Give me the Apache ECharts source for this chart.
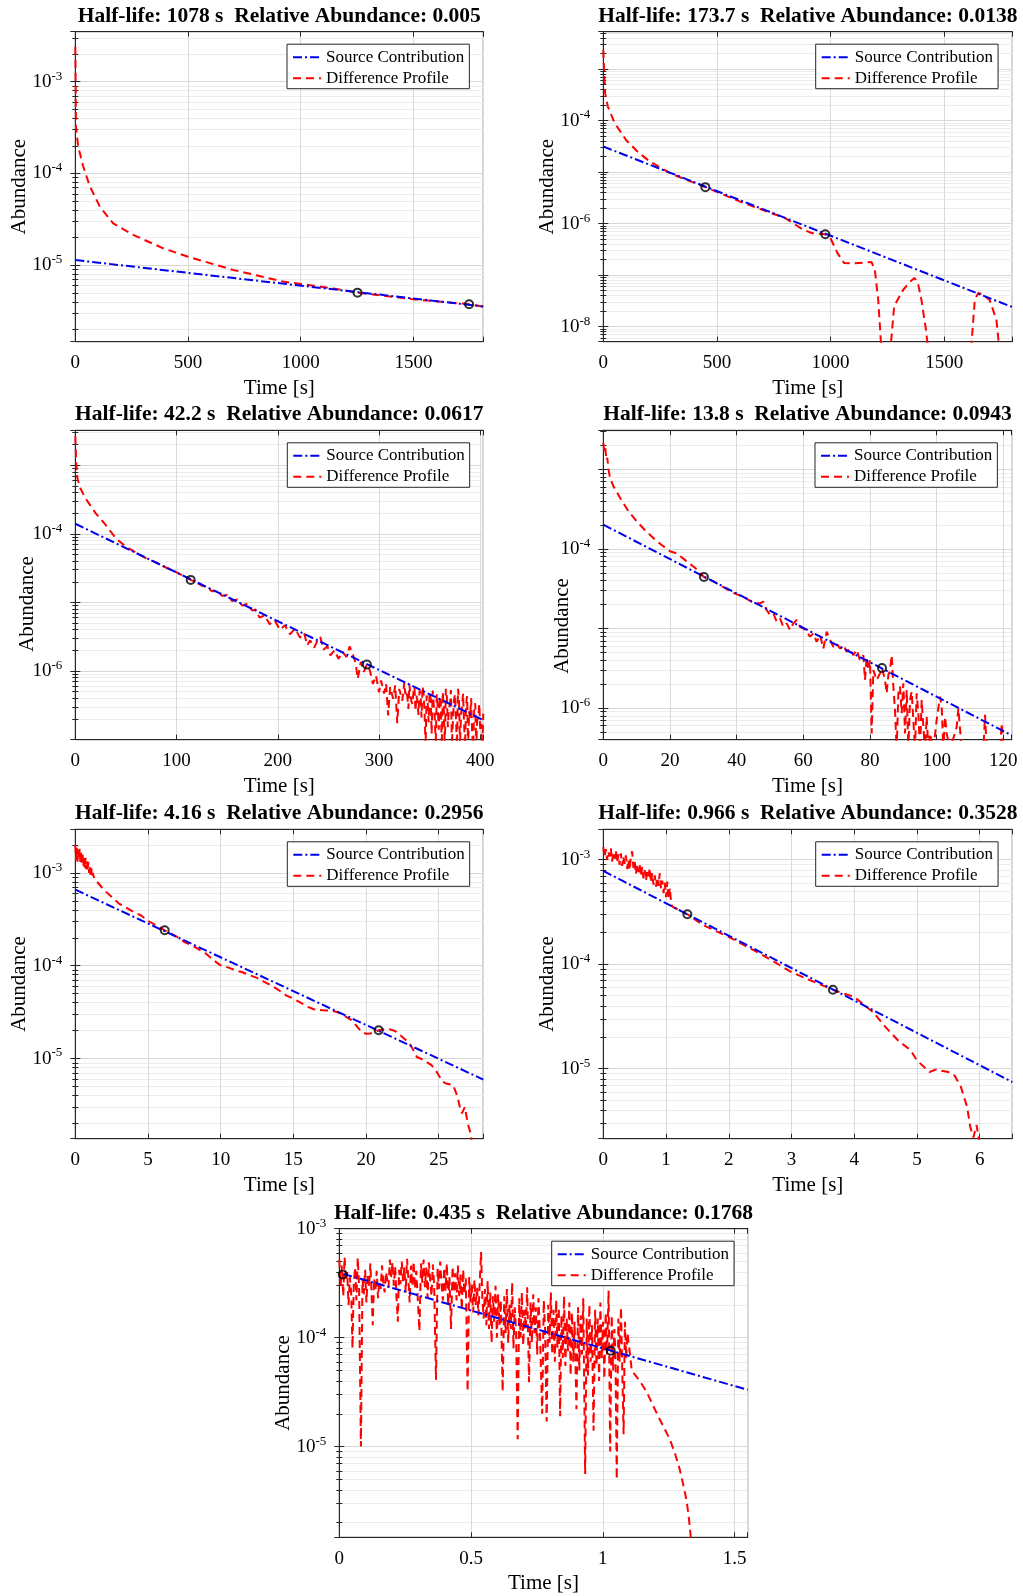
<!DOCTYPE html>
<html>
<head>
<meta charset="utf-8">
<script src="https://cdn.jsdelivr.net/npm/echarts@6/dist/echarts.min.js"></script>
<style>
html, body { margin: 0; padding: 0; background: #fff; }
#chart { width: 1023px; height: 1596px; }
</style>
</head>
<body>
<div id="chart"></div>
<script>
// ---------- panel titles ----------
const titles = [
  'Half-life: 1078 s  Relative Abundance: 0.005',
  'Half-life: 173.7 s  Relative Abundance: 0.0138',
  'Half-life: 42.2 s  Relative Abundance: 0.0617',
  'Half-life: 13.8 s  Relative Abundance: 0.0943',
  'Half-life: 4.16 s  Relative Abundance: 0.2956',
  'Half-life: 0.966 s  Relative Abundance: 0.3528',
  'Half-life: 0.435 s  Relative Abundance: 0.1768'
];

// ---------- axis ranges and tick labels ----------
const timeMax  = [1810, 1800, 403, 122.5, 28.07, 6.52, 1.55];
const timeStep = [500, 500, 100, 20, 5, 1, 0.5];
const abundMin = [1.47e-6, 5.1e-9, 1.0e-7, 4.0e-7, 1.37e-6, 2.14e-6, 1.47e-6];
const abundMax = [3.5e-3, 5.3e-3, 3.22e-3, 3.1e-3, 2.95e-3, 1.95e-3, 1.0e-3];
const decadeLabels = [[-3, -4, -5], [-4, -6, -8], [-4, -6], [-4, -6], [-3, -4, -5], [-3, -4, -5], [-3, -4, -5]];

// ---------- source contribution (fitted single-exponential) ----------
const source1 = [[0, 1.14e-5], [1810, 3.56e-6]];
const source2 = [[0, 3.13e-5], [1800, 2.4e-8]];
const source3 = [[0, 1.4e-4], [403, 1.93e-7]];
const source4 = [[0, 2.02e-4], [122.5, 4.53e-7]];
const source5 = [[0, 6.6e-4], [28.07, 5.94e-6]];
const source6 = [[0, 7.8e-4], [6.52, 7.45e-6]];
const source7 = [[0.015, 3.85e-4], [1.55, 3.32e-5]];

// ---------- fit-window points ----------
const peaks1 = [[1252, 5.03e-6], [1747, 3.76e-6]];
const peaks2 = [[449, 5.1e-6], [977, 6.2e-7]];
const peaks3 = [[114, 2.13e-5], [288, 1.25e-6]];
const peaks4 = [[30.2, 4.44e-5], [83.6, 3.19e-6]];
const peaks5 = [[6.15, 2.41e-4], [20.87, 2.02e-5]];
const peaks6 = [[1.34, 3.0e-4], [3.66, 5.7e-5]];
const peaks7 = [[0.013, 3.8e-4], [1.03, 7.6e-5]];

// ---------- difference profiles ----------
const diff1 = [[0,2.4e-3],[1,1.5e-3],[2,7.0e-4],[3,3.2e-4],[13,1.96e-4],[35,1.19e-4],[65,7.2e-5],[109,4.35e-5],
  [168,2.86e-5],[257,2.14e-5],[390,1.53e-5],[500,1.24e-5],[700,8.9e-6],[922,6.64e-6],[1144,5.6e-6],[1252,5.03e-6],
  [1498,4.26e-6],[1747,3.76e-6],[1810,3.55e-6]];

const diff2 = [[0,2.34e-3],[3,1.11e-3],[8,3.4e-4],[20,1.87e-4],[50,8.9e-5],[100,4.2e-5],[150,2.5e-5],[200,1.66e-5],
  [300,9.2e-6],[449,5.1e-6],[600,2.69e-6],[700,1.85e-6],[800,1.28e-6],[880,7.6e-7],[920,6.5e-7],[977,6.2e-7],
  [1000,5.2e-7],[1030,2.7e-7],[1060,1.71e-7],[1100,1.68e-7],[1150,1.76e-7],[1180,1.8e-7],[1195,1.27e-7],
  [1210,3.3e-8],[1225,3e-9],[1262,3e-9],[1280,2.5e-8],[1320,5.2e-8],[1350,7.5e-8],[1370,8.8e-8],[1385,6.9e-8],
  [1400,3.3e-8],[1420,8.7e-9],[1432,3e-9],[1617,3e-9],[1635,3.3e-8],[1650,4.5e-8],[1670,4.2e-8],[1700,3.3e-8],
  [1730,1.37e-8],[1745,3e-9],[1800,3e-9]];

const diff3 = [[0,2.64e-3],[1,1.02e-3],[2,6.5e-4],[5,4.6e-4],[10,3.3e-4],[20,2.0e-4],[30,1.35e-4],[40,8.6e-5],
  [50,6.5e-5],[60,5.3e-5],[70,4.4e-5],[80,3.8e-5],[90,3.2e-5],[100,2.75e-5],[110,2.3e-5],[114,2.13e-5],
  [120,1.93e-5],[125,1.75e-5],[130,1.68e-5],[135,1.45e-5],[140,1.47e-5],[145,1.25e-5],[150,1.28e-5],
  [155,1.05e-5],[160,1.1e-5],[165,9.0e-6],[170,9.6e-6],[175,7.6e-6],[178,7.9e-6],[182,6.0e-6],[187,6.5e-6],
  [192,4.8e-6],[197,5.5e-6],[202,4.0e-6],[207,4.65e-6],[212,3.43e-6],[217,4.15e-6],[222,3.07e-6],[226,3.6e-6],
  [229,2.37e-6],[232,2.8e-6],[236,2.19e-6],[240,2.96e-6],[242,3.14e-6],[245,2.05e-6],[249,2.29e-6],[252,1.69e-6],
  [256,2.0e-6],[260,1.51e-6],[264,1.9e-6],[268,1.6e-6],[271,2.29e-6],[274,1.79e-6],[277,1.28e-6],[279,7.7e-7],
  [282,1.36e-6],[285,9.7e-7],[288,1.25e-6],[291,1.02e-6],[294,6.5e-7],[297,8.6e-7],[300,4.9e-7],[302,7.3e-7],
  [305,4.7e-7],[307,6.5e-7],[309,2.25e-7],[311,5.85e-7],[314,3.95e-7],[316,6.2e-7],[318,1.74e-7],[320,5.5e-7],
  [323,3.7e-7],[325,6.9e-7],[326,4.6e-7],[327,5.2e-7],[328,4.2e-7],[329,2.8e-7],[330,6.4e-7],[331,4.6e-7],
  [332,3.6e-7],[333,3.3e-7],[334,5.0e-7],[335,5.85e-7],[336,2.6e-7],[337,4.4e-7],[338,3.5e-7],[339,2.3e-7],
  [340,5.2e-7],[341,4.8e-7],[342,2.1e-7],[343,6.0e-7],[344,4.7e-7],[345,2.5e-7],[346,8e-8],[347,4.4e-7],
  [348,3.7e-7],[349,1.8e-7],[350,4.9e-7],[351,4.0e-7],[352,1.22e-7],[353,5.2e-7],[354,3.3e-7],[355,2.2e-7],
  [356,8e-8],[357,4.6e-7],[358,3.0e-7],[359,1.4e-7],[360,4.2e-7],[361,3.6e-7],[362,8e-8],[363,5.0e-7],
  [364,2.67e-7],[365,8e-8],[366,5.5e-7],[367,4.2e-7],[368,1.52e-7],[369,2.8e-7],[370,3.3e-7],[371,5.3e-7],
  [372,8e-8],[373,1.9e-7],[374,3.7e-7],[375,4.6e-7],[376,2.1e-7],[377,8e-8],[378,5.5e-7],[379,3.9e-7],
  [380,8e-8],[381,2.4e-7],[382,3.0e-7],[383,4.7e-7],[384,1.7e-7],[385,8e-8],[386,3.3e-7],[387,4.3e-7],
  [388,8e-8],[389,2.6e-7],[390,2.1e-7],[391,4.0e-7],[392,1.22e-7],[393,8e-8],[394,2.8e-7],[395,3.4e-7],
  [396,8e-8],[397,1.9e-7],[398,2.1e-7],[399,3.3e-7],[400,1.36e-7],[401,1.7e-7],[402,8e-8],[403,2.4e-7]];

const diff4 = [[0,2.15e-3],[0.3,1.7e-3],[0.6,1.9e-3],[0.9,1.3e-3],[1.2,1.4e-3],[1.5,1.05e-3],[2,7.8e-4],[3,6.2e-4],
  [5,4.4e-4],[7.5,3.0e-4],[10,2.23e-4],[12.5,1.72e-4],[15,1.37e-4],[17.5,1.12e-4],[20,9.35e-5],[22,8.8e-5],
  [25,7.0e-5],[27.5,5.8e-5],[30.2,4.44e-5],[33,3.9e-5],[36,3.3e-5],[39,2.8e-5],[42,2.5e-5],[45,2.1e-5],
  [47,2.07e-5],[48,2.18e-5],[49,1.71e-5],[50,1.48e-5],[51,1.55e-5],[52,1.22e-5],[53,1.34e-5],[54,1.05e-5],
  [55,1.16e-5],[56,9.6e-6],[57,1.16e-5],[58,1.28e-5],[59,1.05e-5],[60,1.0e-5],[61,9.1e-6],[62,7.9e-6],
  [63,8.7e-6],[64,6.8e-6],[65,8.3e-6],[66,5.6e-6],[67,9.1e-6],[68,7.2e-6],[69,5.9e-6],[70,6.5e-6],[71,5.6e-6],
  [72,6.2e-6],[73,5.1e-6],[74,5.6e-6],[75,4.6e-6],[76,5.4e-6],[77,4.0e-6],[78,4.6e-6],[78.5,2.25e-6],[79,4.4e-6],
  [79.5,3.0e-6],[80,4.0e-6],[80.5,4.8e-7],[81,3.0e-6],[82,2.25e-6],[83,2.73e-6],[83.6,3.2e-6],[84.5,2.25e-6],
  [85,1.53e-6],[85.5,2.6e-6],[86,3.0e-6],[86.5,4.6e-6],[87,1.86e-6],[87.5,9.4e-7],[88,3e-7],[88.5,1.53e-6],
  [89,1.86e-6],[89.5,8.6e-7],[90,2.05e-6],[90.5,4.8e-7],[91,1.69e-6],[91.5,3e-7],[92,1.26e-6],[92.5,1.61e-6],
  [93,7.1e-7],[93.5,3e-7],[94,1.53e-6],[94.5,8.6e-7],[95,3e-7],[95.5,1.26e-6],[96,5.8e-7],[96.5,3e-7],
  [97,7.8e-7],[97.5,3e-7],[98,4.8e-7],[99,3e-7],[100,7.1e-7],[101,1.39e-6],[101.5,1.04e-6],[102,3e-7],
  [102.5,7.8e-7],[103,4.8e-7],[104,3e-7],[106,5.8e-7],[106.5,9.9e-7],[107.5,3e-7],[114,3e-7],[114.5,8.2e-7],
  [115,3e-7],[119,3e-7],[119.5,6.4e-7],[120,3e-7],[122.5,3e-7]];

const diff5 = [[0,2.0e-3],[0.05,1.38e-3],[0.1,1.86e-3],[0.15,1.32e-3],[0.2,1.78e-3],[0.25,1.41e-3],[0.3,1.82e-3],
  [0.35,1.26e-3],[0.4,1.66e-3],[0.45,1.29e-3],[0.5,1.58e-3],[0.55,1.17e-3],[0.6,1.51e-3],[0.65,1.12e-3],
  [0.7,1.45e-3],[0.75,1.1e-3],[0.8,1.35e-3],[0.85,1.05e-3],[0.9,1.32e-3],[0.95,1.0e-3],[1.0,1.2e-3],
  [1.05,9.5e-4],[1.1,1.12e-3],[1.15,8.9e-4],[1.2,1.0e-3],[1.3,8.7e-4],[1.5,8.0e-4],[2,6.5e-4],[3,4.68e-4],
  [4,3.8e-4],[4.5,3.5e-4],[5,3.05e-4],[5.5,2.75e-4],[6.15,2.41e-4],[7,2.05e-4],[7.5,1.8e-4],[8,1.66e-4],
  [8.5,1.5e-4],[9,1.35e-4],[9.5,1.15e-4],[10,1.01e-4],[10.5,9.6e-5],[11,8.95e-5],[11.5,8.5e-5],[12,7.9e-5],
  [12.5,7.4e-5],[13,6.7e-5],[13.5,6.1e-5],[14,5.45e-5],[14.5,4.8e-5],[15,4.43e-5],[15.5,4.0e-5],[16,3.6e-5],
  [16.5,3.35e-5],[17,3.32e-5],[17.5,3.3e-5],[18,3.18e-5],[18.5,2.9e-5],[19,2.59e-5],[19.4,2.2e-5],
  [19.7,1.94e-5],[20,1.85e-5],[20.3,1.86e-5],[20.9,2.02e-5],[21.5,2.1e-5],[22,1.98e-5],[22.5,1.71e-5],
  [23,1.45e-5],[23.3,1.2e-5],[23.5,1.04e-5],[24,9.6e-6],[24.5,8.5e-6],[24.8,7.5e-6],[25,6.6e-6],[25.3,5.6e-6],
  [25.5,5.4e-6],[26,5.16e-6],[26.3,3.87e-6],[26.5,2.8e-6],[26.6,2.57e-6],[26.8,3.0e-6],[27,2.0e-6],
  [27.2,1.56e-6],[27.3,1.2e-6]];

const diff6 = [[0,1.318e-3],[0.02,1.047e-3],[0.04,1.259e-3],[0.06,1.0e-3],[0.08,1.202e-3],[0.1,1.072e-3],
  [0.12,1.288e-3],[0.14,9.55e-4],[0.16,1.175e-3],[0.18,1.023e-3],[0.2,1.23e-3],[0.22,9.33e-4],[0.24,1.122e-3],
  [0.26,8.91e-4],[0.28,1.148e-3],[0.3,8.71e-4],[0.32,1.072e-3],[0.34,9.12e-4],[0.36,1.096e-3],[0.38,8.13e-4],
  [0.4,1.0e-3],[0.42,7.94e-4],[0.44,1.072e-3],[0.46,1.202e-3],[0.48,8.32e-4],[0.5,9.55e-4],[0.52,7.24e-4],
  [0.54,9.12e-4],[0.56,7.59e-4],[0.58,8.91e-4],[0.6,6.92e-4],[0.62,8.51e-4],[0.64,6.61e-4],[0.66,7.94e-4],
  [0.68,6.31e-4],[0.7,7.76e-4],[0.72,6.92e-4],[0.74,8.32e-4],[0.76,6.03e-4],[0.78,7.41e-4],[0.8,5.75e-4],
  [0.82,7.08e-4],[0.84,5.5e-4],[0.86,6.76e-4],[0.88,5.62e-4],[0.9,7.41e-4],[0.92,5.25e-4],[0.94,6.31e-4],
  [0.96,4.79e-4],[0.98,6.03e-4],[1.0,4.37e-4],[1.02,6.17e-4],[1.04,4.17e-4],[1.06,5.37e-4],[1.08,3.98e-4],
  [1.1,3.55e-4],[1.34,3.0e-4],[1.6,2.35e-4],[2,1.82e-4],[2.5,1.26e-4],[3,8.4e-5],[3.3,7.0e-5],[3.66,5.7e-5],
  [4,4.85e-5],[4.3,3.48e-5],[4.5,2.5e-5],[4.7,1.86e-5],[4.9,1.5e-5],[5,1.2e-5],[5.2,9.3e-6],[5.3,9.8e-6],
  [5.5,9.3e-6],[5.6,8.6e-6],[5.7,6.7e-6],[5.8,4.3e-6],[5.85,2.77e-6],[5.9,2.2e-6],[5.95,2.9e-6],[6.0,1.9e-6]];

const diff7 = [[0,5.2e-4],[0.005,3.0e-4],[0.01,4.6e-4],[0.015,2.4e-4],[0.02,5.5e-4],[0.025,3.3e-4],[0.03,4.0e-4],
  [0.035,2.0e-4],[0.04,3.6e-4],[0.045,2.6e-4],[0.05,8.0e-5],[0.055,3.1e-4],[0.06,4.4e-4],[0.065,2.2e-4],
  [0.07,5.4e-4],[0.075,3.0e-4],[0.082,1.0e-5],[0.088,3.4e-4],[0.093,2.5e-4],[0.098,4.2e-4],[0.103,2.1e-4],
  [0.108,3.8e-4],[0.113,2.9e-4],[0.118,4.8e-4],[0.123,2.3e-4],[0.127,1.3e-4],[0.132,3.5e-4],[0.137,2.7e-4],
  [0.142,4.1e-4],[0.147,2.3e-4],[0.152,3.3e-4],[0.157,2.8e-4],[0.162,4.6e-4],[0.167,3.2e-4],[0.172,2.6e-4],
  [0.177,4.0e-4],[0.182,3.4e-4],[0.187,2.9e-4],[0.192,5.2e-4],[0.197,3.6e-4],[0.202,4.9e-4],[0.207,3.0e-4],
  [0.212,4.5e-4],[0.217,2.4e-4],[0.222,1.4e-4],[0.227,4.2e-4],[0.232,3.1e-4],[0.237,5.0e-4],[0.242,3.3e-4],
  [0.247,4.4e-4],[0.252,2.6e-4],[0.257,5.3e-4],[0.262,3.5e-4],[0.267,2.1e-4],[0.272,4.6e-4],[0.277,3.0e-4],
  [0.282,5.0e-4],[0.287,2.8e-4],[0.292,4.1e-4],[0.297,2.5e-4],[0.304,1.15e-4],[0.31,4.8e-4],[0.315,3.2e-4],
  [0.32,5.2e-4],[0.325,2.9e-4],[0.33,4.4e-4],[0.335,2.3e-4],[0.34,4.9e-4],[0.345,3.4e-4],[0.35,2.4e-4],
  [0.355,4.7e-4],[0.36,3.0e-4],[0.367,4.1e-5],[0.373,4.3e-4],[0.378,2.8e-4],[0.383,5.0e-4],[0.388,3.1e-4],
  [0.393,2.2e-4],[0.398,4.4e-4],[0.403,2.7e-4],[0.408,4.8e-4],[0.413,2.0e-4],[0.418,3.6e-4],[0.424,1.2e-4],
  [0.43,4.5e-4],[0.435,2.6e-4],[0.44,3.9e-4],[0.445,2.2e-4],[0.45,4.6e-4],[0.455,2.4e-4],[0.46,3.8e-4],
  [0.465,1.8e-4],[0.47,4.2e-4],[0.475,2.5e-4],[0.48,3.5e-4],[0.487,3.2e-5],[0.493,3.6e-4],[0.498,2.1e-4],
  [0.503,3.1e-4],[0.508,1.7e-4],[0.513,3.4e-4],[0.518,2.0e-4],[0.523,2.9e-4],[0.528,1.6e-4],[0.533,3.2e-4],
  [0.538,6.1e-4],[0.543,2.3e-4],[0.548,1.5e-4],[0.553,2.8e-4],[0.558,1.3e-4],[0.563,3.3e-4],[0.568,1.2e-4],
  [0.573,2.6e-4],[0.578,9.0e-5],[0.583,2.4e-4],[0.588,1.4e-4],[0.593,3.0e-4],[0.598,1.0e-4],[0.603,2.5e-4],
  [0.608,1.3e-4],[0.613,2.2e-4],[0.62,3.2e-5],[0.626,2.4e-4],[0.631,1.1e-4],[0.636,2.8e-4],[0.641,9.0e-5],
  [0.646,2.0e-4],[0.651,1.2e-4],[0.656,3.2e-4],[0.661,8.0e-5],[0.666,1.9e-4],[0.671,1.1e-4],[0.677,1.17e-5],
  [0.683,2.3e-4],[0.688,1.0e-4],[0.693,2.6e-4],[0.698,8.5e-5],[0.703,1.8e-4],[0.708,1.2e-4],[0.713,2.9e-4],
  [0.72,3.9e-5],[0.726,2.1e-4],[0.731,9.0e-5],[0.736,2.5e-4],[0.741,1.1e-4],[0.746,1.9e-4],[0.751,7.0e-5],
  [0.756,2.3e-4],[0.762,1.0e-4],[0.77,2.0e-5],[0.776,2.2e-4],[0.781,1.2e-4],[0.787,1.7e-5],[0.793,2.0e-4],
  [0.798,9.0e-5],[0.803,2.6e-4],[0.808,7.0e-5],[0.813,1.8e-4],[0.818,6.0e-5],[0.823,2.2e-4],[0.828,8.0e-5],
  [0.833,1.9e-4],[0.838,1.9e-5],[0.843,1.6e-4],[0.848,6.5e-5],[0.853,2.4e-4],[0.858,5.5e-5],[0.863,1.5e-4],
  [0.868,7.5e-5],[0.873,2.1e-4],[0.878,4.5e-5],[0.883,1.7e-4],[0.888,6.0e-5],[0.893,1.4e-4],[0.9,2.2e-5],
  [0.906,1.9e-4],[0.911,5.0e-5],[0.916,1.6e-4],[0.921,7.0e-5],[0.926,2.3e-4],[0.933,5.6e-6],[0.939,1.5e-4],
  [0.944,4.5e-5],[0.949,2.0e-4],[0.954,6.0e-5],[0.959,1.3e-4],[0.965,1.4e-5],[0.971,1.8e-4],[0.976,5.5e-5],
  [0.981,1.5e-4],[0.986,4.0e-5],[0.991,2.1e-4],[0.996,6.5e-5],[1.001,1.4e-4],[1.006,4.2e-5],[1.011,1.7e-4],
  [1.016,7.0e-5],[1.022,2.7e-4],[1.028,9.0e-6],[1.034,1.6e-4],[1.039,5.0e-5],[1.044,1.2e-4],[1.048,7.0e-5],
  [1.053,5.0e-6],[1.059,1.5e-4],[1.064,6.0e-5],[1.069,1.9e-4],[1.074,5.0e-5],[1.079,1.3e-5],[1.084,1.4e-4],
  [1.089,6.5e-5],[1.094,1.1e-4],[1.11,5.0e-5],[1.14,4.0e-5],[1.166,3.2e-5],[1.19,2.4e-5],[1.216,1.78e-5],
  [1.235,1.45e-5],[1.254,1.17e-5],[1.275,8.5e-6],[1.292,6.2e-6],[1.305,4.5e-6],[1.317,3.3e-6],[1.325,2.4e-6],
  [1.33,1.86e-6],[1.336,1.3e-6],[1.34,8e-7]];

const sources = [source1, source2, source3, source4, source5, source6, source7];
const diffs = [diff1, diff2, diff3, diff4, diff5, diff6, diff7];
const peaks = [peaks1, peaks2, peaks3, peaks4, peaks5, peaks6, peaks7];

// ---------- page layout (pixels) ----------
const layout = [
  { x: 75.3,  y: 31.7,   w: 408, h: 310,   legX: 287,   yName: [19, 186.7] },
  { x: 603.3, y: 31.7,   w: 409, h: 310,   legX: 815.7, yName: [547.5, 186.7] },
  { x: 75.3,  y: 430.3,  w: 408, h: 309.4, legX: 287.3, yName: [27.5, 604] },
  { x: 603.3, y: 430.3,  w: 408.4, h: 309.4, legX: 815, yName: [562, 626] },
  { x: 75.3,  y: 829.3,  w: 408, h: 309.4, legX: 287.3, yName: [19, 984] },
  { x: 603.3, y: 829.3,  w: 409, h: 309.4, legX: 815.7, yName: [547.5, 984] },
  { x: 339.3, y: 1228.7, w: 408.4, h: 308.6, legX: 551.7, yName: [283, 1383] }
];

const FONT = '"Liberation Serif", "Times New Roman", serif';
const AXIS_COLOR = '#262626';

const option = {
  animation: false,
  backgroundColor: '#ffffff',
  grid: [], xAxis: [], yAxis: [], series: [], legend: [], graphic: []
};

layout.forEach(function (L, i) {
  const step = timeStep[i];
  const labels = decadeLabels[i];

  option.grid.push({
    left: L.x, top: L.y, width: L.w, height: L.h,
    show: true, borderColor: AXIS_COLOR, borderWidth: 1, backgroundColor: '#fff',
    containLabel: false, outerBoundsMode: 'none'
  });

  const xBase = {
    type: 'value', gridIndex: i, min: 0, max: timeMax[i], interval: step,
    axisLine: { show: true, onZero: false, lineStyle: { color: AXIS_COLOR, width: 1 } },
    axisTick: { show: true, inside: true, length: 5, lineStyle: { color: AXIS_COLOR } }
  };
  option.xAxis.push(Object.assign({}, xBase, {
    position: 'bottom',
    name: 'Time [s]', nameLocation: 'middle', nameGap: 36,
    nameTextStyle: { fontFamily: FONT, fontSize: 21, color: '#000' },
    axisLabel: {
      margin: 12, fontFamily: FONT, fontSize: 19, color: '#000',
      showMinLabel: true, showMaxLabel: true,
      formatter: function (v) {
        const q = v / step;
        return Math.abs(q - Math.round(q)) < 1e-6 ? String(+v.toFixed(6)) : '';
      }
    },
    splitLine: { show: true, lineStyle: { color: '#dadada', width: 1 } }
  }));
  option.xAxis.push(Object.assign({}, xBase, {
    position: 'top', axisLabel: { show: false }, splitLine: { show: false }
  }));

  const yBase = {
    type: 'log', logBase: 10, gridIndex: i, min: abundMin[i], max: abundMax[i],
    axisLine: { show: true, lineStyle: { color: AXIS_COLOR, width: 1 } },
    axisTick: { show: true, inside: true, length: 5, lineStyle: { color: AXIS_COLOR } },
    minorTick: { show: true, splitNumber: 9, length: 3, lineStyle: { color: AXIS_COLOR } }
  };
  option.yAxis.push(Object.assign({}, yBase, {
    position: 'left',
    axisLabel: {
      margin: 13, color: '#000',
      formatter: function (v) {
        const e = Math.log10(v);
        const r = Math.round(e);
        if (Math.abs(e - r) > 1e-6 || labels.indexOf(r) < 0) return '';
        return '{b|10}{s|' + r + '}';
      },
      rich: {
        b: { fontFamily: FONT, fontSize: 19, color: '#000', lineHeight: 24 },
        s: { fontFamily: FONT, fontSize: 13, color: '#000', lineHeight: 14, verticalAlign: 'top' }
      }
    },
    splitLine: { show: true, lineStyle: { color: '#d8d8d8', width: 1 } },
    minorSplitLine: { show: true, lineStyle: { color: '#ececec', width: 1 } }
  }));
  option.yAxis.push(Object.assign({}, yBase, {
    position: 'right', axisLabel: { show: false }, splitLine: { show: false }
  }));

  const xi = 2 * i, yi = 2 * i;
  option.series.push({
    name: 'Difference Profile', type: 'line', xAxisIndex: xi, yAxisIndex: yi,
    data: diffs[i], symbol: 'none', clip: true, silent: true, z: 3,
    lineStyle: { color: '#ff0000', width: 2, type: [8, 5] },
    itemStyle: { color: '#ff0000' }
  });
  option.series.push({
    name: 'Source Contribution', type: 'line', xAxisIndex: xi, yAxisIndex: yi,
    data: sources[i], symbol: 'none', clip: true, silent: true, z: 4,
    lineStyle: { color: '#0000ee', width: 2, type: [9, 3, 2, 3] },
    itemStyle: { color: '#0000ee' }
  });
  option.series.push({
    name: 'Fit window', type: 'scatter', xAxisIndex: xi, yAxisIndex: yi,
    data: peaks[i], symbol: 'circle', symbolSize: 8, silent: true, z: 5,
    itemStyle: { color: 'rgba(0,0,0,0)', borderColor: '#000', borderWidth: 2 }
  });

  option.legend.push({
    show: true, orient: 'vertical', left: L.legX, top: L.y + 12.5,
    data: ['Source Contribution', 'Difference Profile'],
    selectedMode: false, itemWidth: 28, itemHeight: 12, itemGap: 4,
    padding: [4.5, 5, 2, 5], borderColor: AXIS_COLOR, borderWidth: 1, borderRadius: 0,
    backgroundColor: '#fff',
    itemStyle: { opacity: 0 },
    textStyle: { fontFamily: FONT, fontSize: 17, color: '#000' }
  });

  option.graphic.push({
    type: 'text', x: L.x + L.w / 2, y: L.y - 15.5, silent: true,
    style: { text: titles[i], align: 'center', verticalAlign: 'middle',
      fontFamily: FONT, fontWeight: 'bold', fontSize: 21.5, fill: '#000' }
  });
  option.graphic.push({
    type: 'text', x: L.yName[0], y: L.yName[1], rotation: Math.PI / 2, silent: true,
    style: { text: 'Abundance', align: 'center', verticalAlign: 'middle',
      fontFamily: FONT, fontSize: 21, fill: '#000' }
  });
});

const chart = echarts.init(document.getElementById('chart'), null, { renderer: 'canvas' });
chart.setOption(option);
</script>
</body>
</html>
